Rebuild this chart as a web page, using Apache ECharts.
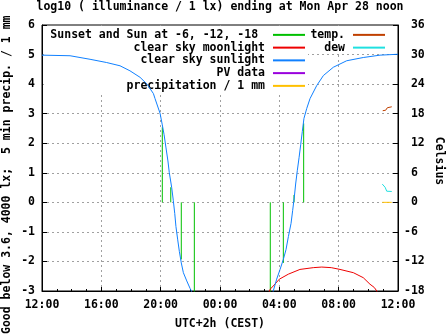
<!DOCTYPE html>
<html>
<head>
<meta charset="utf-8">
<script src="https://cdn.jsdelivr.net/npm/echarts@6/dist/echarts.min.js"></script>
<style>html,body{margin:0;padding:0;background:#fff}#c{width:447px;height:335px}</style>
</head>
<body>
<div id="c"></div>
<script>
// hours since 12:00 (start of window)
const xTickHours = [0, 4, 8, 12, 16, 20, 24];
// Sunset and sun at -6, -12, -18 (evening then morning)
const sunEventHours = [8.11, 8.68, 9.39, 10.27, 15.39, 16.27, 16.99, 17.64];
const sunEventValues = [2.54, 0.51, -1.93, -3.5, -3.5, -2.05, 0.25, 2.67];
// clear sky sunlight, evening
const sunEveHours = [0.00, 1.89, 3.24, 4.36, 5.26, 5.93, 6.61, 7.06, 7.51, 7.62, 7.96, 8.11, 8.23, 8.36, 8.49, 8.58, 8.74, 8.85, 8.95, 9.03, 9.15, 9.26, 9.39, 9.53, 9.76, 9.98, 10.07, 10.18];
const sunEveValues = [4.98, 4.96, 4.84, 4.73, 4.62, 4.45, 4.23, 4.01, 3.68, 3.51, 3.01, 2.62, 2.29, 1.84, 1.40, 1.01, 0.51, 0.07, -0.38, -0.82, -1.27, -1.66, -2.05, -2.38, -2.66, -2.91, -3.0, -3.2];
// clear sky sunlight, morning
const sunMornHours = [15.53, 15.59, 15.82, 16.05, 16.27, 16.45, 16.61, 16.79, 16.90, 17.01, 17.10, 17.21, 17.33, 17.44, 17.55, 17.66, 17.85, 18.07, 18.52, 18.97, 19.64, 20.54, 21.66, 22.79, 24.0];
const sunMornValues = [-3.2, -3.0, -2.6, -2.27, -1.93, -1.6, -1.16, -0.71, -0.27, 0.18, 0.62, 1.07, 1.51, 1.95, 2.40, 2.84, 3.18, 3.51, 3.95, 4.29, 4.57, 4.79, 4.90, 4.98, 5.01];
// clear sky moonlight
const moonHours = [15.24, 15.40, 15.59, 16.0, 16.61, 17.39, 18.29, 18.86, 19.5, 20.09, 20.99, 21.66, 22.11, 22.40, 22.57, 22.65];
const moonValues = [-3.1, -2.93, -2.83, -2.6, -2.43, -2.27, -2.21, -2.19, -2.21, -2.27, -2.38, -2.55, -2.77, -2.88, -3.0, -3.1];
// precipitation / 1 mm
const precipHours = [22.94, 23.58];
const precipValues = [0, 0];
// temperature and dew point, Celsius
const tempHours = [22.97, 23.06, 23.17, 23.28, 23.40, 23.58];
const tempValues = [18.6, 18.9, 18.7, 19.2, 19.1, 19.4];
const dewHours = [22.94, 23.01, 23.13, 23.24, 23.35, 23.58];
const dewValues = [3.7, 3.7, 3.06, 2.26, 2.4, 2.2];

const FONT = 'DejaVu Sans Mono';
const FS = 11.5;
const zip = (a, b) => a.map((v, i) => [v, b[i]]);
const hourLabel = v => String((12 + v) % 24).padStart(2, '0') + ':00';

const N_SUN = 'Sunset and Sun at -6, -12, -18 ';
const N_MOON = 'clear sky moonlight';
const N_SUNL = 'clear sky sunlight';
const N_PV = 'PV data';
const N_PREC = 'precipitation / 1 mm';
const N_TEMP = 'temp.';
const N_DEW = 'dew';

const C = {sun: '#00c000', moon: '#ee0000', sunl: '#1080ff', pv: '#9900dd', prec: '#ffc000', temp: '#c04000', dew: '#20e0e0'};

function lineSeries(name, color, data, yAxisIndex) {
  return {
    name, type: 'line', data, yAxisIndex: yAxisIndex || 0,
    showSymbol: false, symbol: 'none', smooth: false, clip: true,
    lineStyle: {color, width: 1}, itemStyle: {color},
    emphasis: {disabled: true}, z: 2
  };
}

const series = [];
sunEventHours.forEach((h, i) => {
  series.push(lineSeries(N_SUN, C.sun, [[h, 0], [h, sunEventValues[i]]]));
});
series.push(lineSeries(N_MOON, C.moon, zip(moonHours, moonValues)));
series.push(lineSeries(N_SUNL, C.sunl, zip(sunEveHours, sunEveValues)));
series.push(lineSeries(N_SUNL, C.sunl, zip(sunMornHours, sunMornValues)));
series.push(lineSeries(N_PV, C.pv, []));
series.push(lineSeries(N_PREC, C.prec, zip(precipHours, precipValues)));
series.push(lineSeries(N_TEMP, C.temp, zip(tempHours, tempValues), 1));
series.push(lineSeries(N_DEW, C.dew, zip(dewHours, dewValues), 1));

const txt = {fontFamily: FONT, fontSize: FS, fontWeight: 'bold', color: '#000'};
const legendCommon = {
  orient: 'vertical', align: 'right', icon: 'rect', itemWidth: 32, itemHeight: 2,
  itemGap: 0, backgroundColor: '#fff', z: 1, selectedMode: false,
  textStyle: Object.assign({}, txt, {lineHeight: 12.75, padding: [0, 3, 0, 0]})
};

const chart = echarts.init(document.getElementById('c'), null, {renderer: 'canvas'});
chart.setOption({
  animation: false,
  backgroundColor: '#fff',
  title: {
    text: 'log10 ( illuminance / 1 lx) ending at Mon Apr 28 noon',
    left: 220, top: 1, padding: 0, textAlign: 'center',
    textStyle: Object.assign({}, txt)
  },
  grid: {left: 42, right: 49, top: 25, bottom: 40, show: true, borderColor: '#000', borderWidth: 1, backgroundColor: 'transparent'},
  legend: [
    Object.assign({}, legendCommon, {
      data: [N_SUN, N_MOON, N_SUNL, N_PV, N_PREC],
      right: 139, top: 26, padding: [2.5, 3, 0, 7]
    }),
    Object.assign({}, legendCommon, {
      data: [N_TEMP, N_DEW],
      right: 50, top: 26, padding: [2.5, 12, 0, 3]
    })
  ],
  xAxis: {
    type: 'value', min: xTickHours[0], max: xTickHours[xTickHours.length - 1], interval: 4,
    name: 'UTC+2h (CEST)', nameLocation: 'middle', nameGap: 27,
    nameTextStyle: Object.assign({}, txt),
    axisLine: {show: true, onZero: false, lineStyle: {color: '#000', width: 1}},
    axisTick: {show: true, inside: true, length: 4, lineStyle: {color: '#000'}},
    minorTick: {show: true, splitNumber: 4, length: 2, lineStyle: {color: '#000'}},
    axisLabel: Object.assign({}, txt, {margin: 8, formatter: hourLabel}),
    splitLine: {show: true, showMinLine: false, showMaxLine: false, lineStyle: {color: '#a0a0a0', type: [2, 3], width: 1}}
  },
  yAxis: [
    {
      type: 'value', min: -3, max: 6, interval: 1, position: 'left',
      axisLine: {show: true, onZero: false, lineStyle: {color: '#000', width: 1}},
      axisTick: {show: true, inside: true, length: 5, lineStyle: {color: '#000'}},
      axisLabel: Object.assign({}, txt, {margin: 7}),
      splitLine: {show: true, showMinLine: false, showMaxLine: false, lineStyle: {color: '#a0a0a0', type: [2, 3], width: 1}}
    },
    {
      type: 'value', min: -18, max: 36, interval: 6, position: 'right',
      axisLine: {show: true, onZero: false, lineStyle: {color: '#000', width: 1}},
      axisTick: {show: true, inside: true, length: 5, lineStyle: {color: '#000'}},
      axisLabel: Object.assign({}, txt, {margin: 6, align: 'left', formatter: v => (v < 0 ? String(v) : ' ' + v)}),
      splitLine: {show: false}
    }
  ],
  graphic: [
    {type: 'text', x: 7, y: 334, rotation: Math.PI / 2, silent: true,
     style: {text: 'Good below 3.6, 4000 lx;  5 min precip. / 1 mm', font: 'bold ' + FS + 'px ' + FONT, fill: '#000', align: 'left', verticalAlign: 'middle'}},
    {type: 'text', x: 439, y: 161, rotation: -Math.PI / 2, silent: true,
     style: {text: 'Celsius', font: 'bold ' + FS + 'px ' + FONT, fill: '#000', align: 'center', verticalAlign: 'middle'}}
  ],
  series
});
</script>
</body>
</html>
